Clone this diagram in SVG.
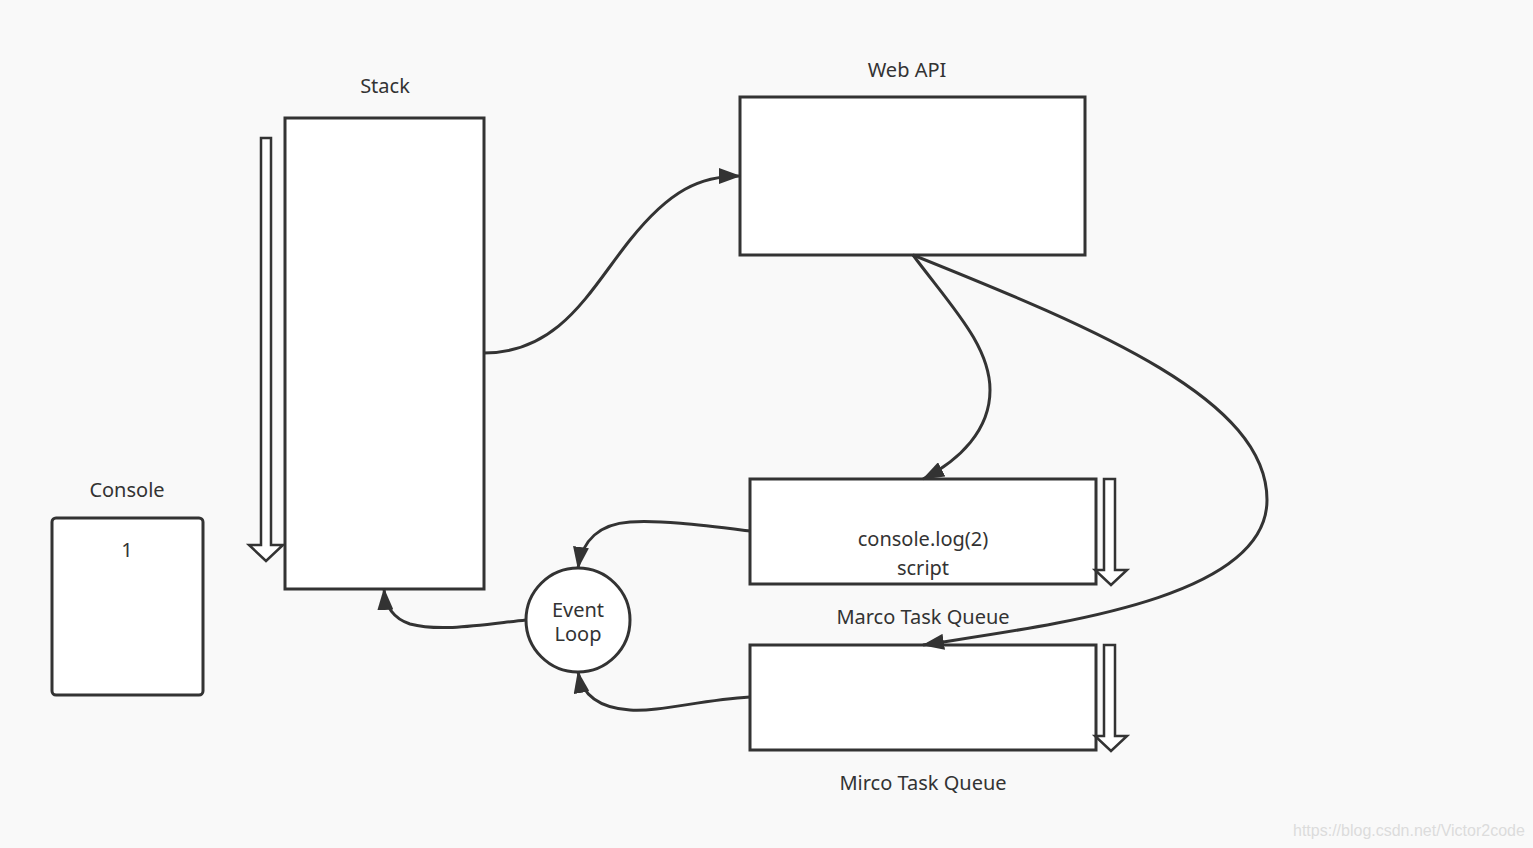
<svg xmlns="http://www.w3.org/2000/svg" width="1533" height="848" viewBox="0 0 1533 848">
<defs>
<style>
.box{fill:#fff;stroke:#333;stroke-width:3}
.hollow{fill:#fff;stroke:#333;stroke-width:2.5;stroke-linejoin:miter}
.conn{fill:none;stroke:#333;stroke-width:3}
text{font-family:"Noto Sans","Open Sans","Liberation Sans",sans-serif;font-size:20px;fill:#333;text-anchor:middle}
.wm{font-family:"Liberation Sans",sans-serif;font-size:16px;fill:#dcdcdc;text-anchor:start}
</style>
<marker id="ah" markerUnits="userSpaceOnUse" markerWidth="22" markerHeight="16" viewBox="0 0 22 16" refX="21" refY="8" orient="auto">
<path d="M0,0 L22,8 L0,16 Z" fill="#333"/>
</marker>
</defs>
<rect width="1533" height="848" fill="#f9f9f9"/>

<g id="stack">
<text x="385" y="93">Stack</text>
<rect class="box" x="285" y="118" width="199" height="471"/>
</g>
<g id="stack-arrow">
<path class="hollow" d="M261,138 H271 V545 H283 L266,561 L249,545 H261 Z"/>
</g>
<g id="webapi">
<text x="907" y="77">Web API</text>
<rect class="box" x="740" y="97" width="345" height="158"/>
</g>
<g id="console">
<text x="127" y="497">Console</text>
<rect class="box" x="52" y="518" width="151" height="177" rx="4"/>
<text x="127" y="557">1</text>
</g>
<g id="macro">
<rect class="box" x="750" y="479" width="346" height="105"/>
<text x="923" y="546">console.log(2)</text>
<text x="923" y="575">script</text>
<text x="923" y="624">Marco Task Queue</text>
</g>
<g id="macro-arrow">
<path class="hollow" d="M1104,479 H1115 V570 H1127 L1111,585 L1095,570 H1104 Z"/>
</g>
<g id="micro">
<rect class="box" x="750" y="645" width="346" height="105"/>
<text x="923" y="790">Mirco Task Queue</text>
</g>
<g id="micro-arrow">
<path class="hollow" d="M1104,645 H1115 V736 H1127 L1111,751 L1095,736 H1104 Z"/>
</g>
<g id="eventloop">
<circle class="box" cx="578" cy="620" r="52"/>
<text x="578" y="617">Event</text>
<text x="578" y="641">Loop</text>
</g>

<g id="connectors">
<path class="conn" marker-end="url(#ah)" d="M484,353 C560,353 590,290 630,240 C670,190 700,176 740,176"/>
<path class="conn" marker-end="url(#ah)" d="M913,255 C950,305 990,345 990,390 C990,430 960,460 923,479"/>
<path class="conn" marker-end="url(#ah)" d="M913,255 C1100,330 1267,400 1267,500 C1267,600 1050,625 923,645"/>
<path class="conn" marker-end="url(#ah)" d="M750,531 C700,525 660,520 630,522 C600,524 582,540 578,568"/>
<path class="conn" marker-end="url(#ah)" d="M750,697 C700,700 660,712 630,710 C600,708 582,695 578,672"/>
<path class="conn" marker-end="url(#ah)" d="M526,620 C480,625 440,632 410,624 C392,618 385,605 384,589"/>
</g>
<text class="wm" x="1293" y="836">https://blog.csdn.net/Victor2code</text>
</svg>
